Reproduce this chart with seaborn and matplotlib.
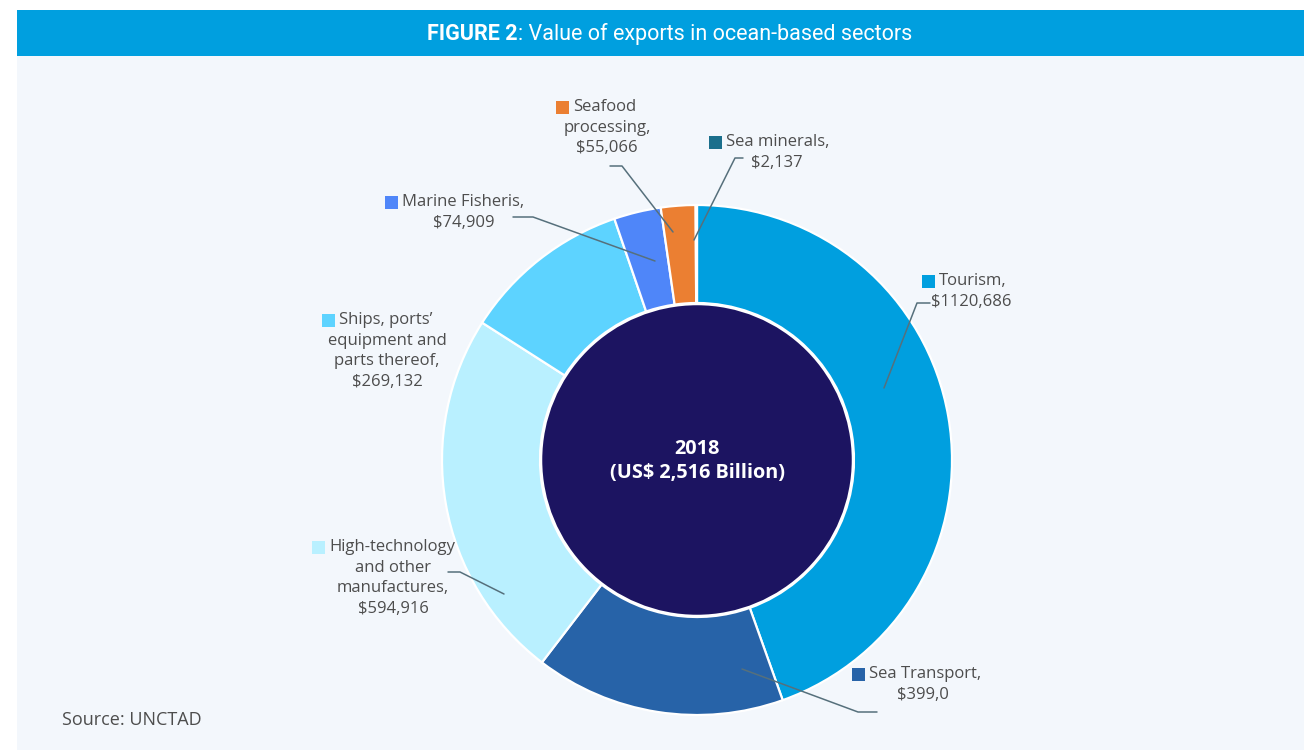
import numpy as np
import seaborn as sns
import matplotlib.pyplot as plt
from matplotlib.patches import Rectangle, Circle

## data (US$ billion, 2018), clockwise from 12 o'clock
sectors = ["Tourism", "Sea Transport", "High-technology and other manufactures",
           "Ships, ports' equipment and parts thereof", "Marine Fisheris",
           "Seafood processing", "Sea minerals"]
values = [1120.686, 399.0, 594.916, 269.132, 74.909, 55.066, 2.137]
value_labels = ["$1120,686", "$399,0", "$594,916", "$269,132", "$74,909", "$55,066", "$2,137"]
first_lines = ["Tourism,", "Sea Transport,", "High-technology", "Ships, ports\u2019",
               "Marine Fisheris,", "Seafood", "Sea minerals,"]
extra_lines = [[], [], ["and other", "manufactures,"], ["equipment and", "parts thereof,"],
               [], ["processing,"], []]
colors = ["#009FDF", "#2763A8", "#B9F0FF", "#5DD3FF", "#4F86F9", "#EB7F32", "#1B6F8C"]
center_title = "2018\n(US$ 2,516 Billion)"

## layout (pixel coords, y down)
CX, CY, R_OUT, R_IN = 697, 460, 255, 157
# square x, first line y, centre x of following lines
label_pos = [(922, 281, 971), (852, 674, 923), (312, 547, 393), (322, 320, 387),
             (385, 202, 464), (556, 107, 607), (709, 142, 777)]
leaders = [
    [(930, 303), (917, 303), (884, 388)],
    [(877, 712), (858, 712), (742, 669)],
    [(448, 572), (460, 572), (504, 594)],
    None,
    [(513, 217), (533, 217), (655, 261)],
    [(610, 166), (622, 166), (673, 232)],
    [(743, 158), (735, 158), (694, 240)],
]

sns.set_theme(style="white")
plt.rcParams["font.family"] = ["Open Sans", "DejaVu Sans"]
TXT = "#4D4D4D"
LINE = "#56707C"
FS = 12

fig = plt.figure(figsize=(13.04, 7.5), dpi=100, facecolor="white")
ax = fig.add_axes([0, 0, 1, 1])

# panel + title bar
ax.add_patch(Rectangle((17, 10), 1287, 740, facecolor="#F3F7FC", edgecolor="none", zorder=0))
ax.add_patch(Rectangle((17, 10), 1287, 46, facecolor="#009FDF", edgecolor="none", zorder=1))
ax.text(518, 34, "FIGURE 2", ha="right", va="center", color="white", fontsize=15.5,
        family="Roboto", fontweight="bold", zorder=2)
ax.text(518, 34, ": Value of exports in ocean-based sectors", ha="left", va="center",
        color="white", fontsize=15.5, family="Roboto", zorder=2)

# donut (y axis is inverted, so counterclock=True draws clockwise on screen)
ax.pie(values, colors=colors, center=(CX, CY), radius=R_OUT, startangle=-90,
       counterclock=True, frame=True,
       wedgeprops=dict(width=R_OUT - R_IN, edgecolor="white", linewidth=1.6))
ax.add_patch(Circle((CX, CY), R_IN - 1, facecolor="#1C1461", edgecolor="white",
                    linewidth=1.8, zorder=5))
ax.text(CX, CY + 1, center_title, ha="center", va="center", color="white",
        fontsize=14.3, fontweight="bold", linespacing=1.3, zorder=6)

# labels
for i in range(len(sectors)):
    sx, sy, mx = label_pos[i]
    ax.add_patch(Rectangle((sx, sy - 6.5), 13, 13, facecolor=colors[i],
                           edgecolor="none", zorder=6))
    ax.text(sx + 17, sy, first_lines[i], ha="left", va="center", color=TXT,
            fontsize=FS, zorder=6)
    lines = extra_lines[i] + [value_labels[i]]
    for j, ln in enumerate(lines):
        ax.text(mx, sy + 20.7 * (j + 1), ln, ha="center", va="center", color=TXT,
                fontsize=FS, zorder=6)
    if leaders[i] is not None:
        xs, ys = zip(*leaders[i])
        ax.plot(xs, ys, color=LINE, lw=1.1, zorder=7)

ax.text(62, 720, "Source: UNCTAD", ha="left", va="center", color=TXT, fontsize=13)

ax.set_xlim(0, 1304)
ax.set_ylim(750, 0)
ax.set_aspect("equal")
ax.axis("off")

fig.savefig("out.png", dpi=100, facecolor="white")
